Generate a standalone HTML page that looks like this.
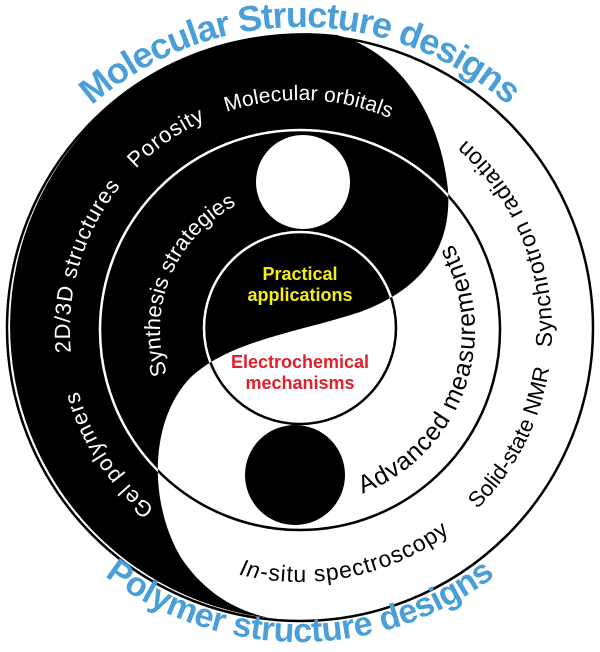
<!DOCTYPE html>
<html><head><meta charset="utf-8"><style>
html,body{margin:0;padding:0;background:#fff;}
svg{display:block;}
text{font-family:"Liberation Sans",Arial,sans-serif;}
</style></head><body>
<svg width="600" height="652" viewBox="0 0 600 652" xmlns="http://www.w3.org/2000/svg">
<defs>
<path id="blk" d="M337,35 C395,50 440,110 448,190 C452,250 420,290 360,312 C300,332 230,340 190,378 C150,420 148,500 180,556 C205,595 240,612 270,618 A293,293 0 1 1 337,35 Z"/>
<clipPath id="clipB"><use href="#blk"/></clipPath>
<path id="cw230" d="M300,560 A230,230 0 1 1 300,100 A230,230 0 1 1 300,560"/>
<path id="cw140" d="M300,470 A140,140 0 1 1 300,190 A140,140 0 1 1 300,470"/>
<path id="ccw175" d="M125,330 A175,175 0 1 0 475,330 A175,175 0 1 0 125,330"/>
<path id="ccw252" d="M48,330 A252,252 0 1 0 552,330 A252,252 0 1 0 48,330"/>
<path id="cw315" d="M300,657 A315,315 0 1 1 300,27 A315,315 0 1 1 300,657"/>
<path id="ccw322" d="M-22,320 A322,322 0 1 0 622,320 A322,322 0 1 0 -22,320"/>
</defs>
<circle cx="300" cy="328" r="293" fill="#fff" stroke="#000" stroke-width="2.5"/>
<use href="#blk" fill="#000"/>
<circle cx="300" cy="330" r="200" fill="none" stroke="#000" stroke-width="2.5"/>
<circle cx="300" cy="328" r="96" fill="none" stroke="#000" stroke-width="2.5"/>
<g clip-path="url(#clipB)">
<circle cx="300" cy="330" r="200" fill="none" stroke="#fff" stroke-width="2.5"/>
<circle cx="300" cy="328" r="96" fill="none" stroke="#fff" stroke-width="2.5"/>
</g>
<circle cx="303" cy="182" r="47" fill="#fff"/>
<circle cx="295" cy="475" r="50" fill="#000"/>

<text font-size="36" font-weight="bold" fill="#4a9fd8" text-anchor="middle"><textPath href="#cw315" startOffset="50%" textLength="455" lengthAdjust="spacing">Molecular Structure designs</textPath></text>
<text font-size="34" font-weight="bold" fill="#4a9fd8" text-anchor="middle"><textPath href="#ccw322" startOffset="25%" textLength="420" lengthAdjust="spacing">Polymer structure designs</textPath></text>

<g fill="#fff" font-size="22" text-anchor="middle">
<text><textPath href="#cw230" startOffset="29.6%" textLength="178" lengthAdjust="spacing">2D/3D structures</textPath></text>
<text><textPath href="#cw230" startOffset="40.3%" textLength="85" lengthAdjust="spacing">Porosity</textPath></text>
<text font-size="21"><textPath href="#cw230" startOffset="50.6%" textLength="167" lengthAdjust="spacing">Molecular orbitals</textPath></text>
<text><textPath href="#cw230" startOffset="15.8%" textLength="142" lengthAdjust="spacing">Gel polymers</textPath></text>
<text><textPath href="#cw140" startOffset="31.2%" textLength="199" lengthAdjust="spacing">Synthesis strategies</textPath></text>
</g>

<g fill="#000" text-anchor="middle">
<text font-size="25"><textPath href="#ccw175" startOffset="44.5%" textLength="301" lengthAdjust="spacing">Advanced measurements</textPath></text>
<text font-size="23"><textPath href="#ccw252" startOffset="28.1%" textLength="222" lengthAdjust="spacing"><tspan font-style="italic">In</tspan>-situ spectroscopy</textPath></text>
<text font-size="22"><textPath href="#ccw252" startOffset="42.5%" textLength="161" lengthAdjust="spacing">Solid-state NMR</textPath></text>
<text font-size="23"><textPath href="#ccw252" startOffset="56.25%" textLength="233" lengthAdjust="spacing">Synchrotron radiation</textPath></text>
</g>

<g font-size="18" font-weight="bold" text-anchor="middle">
<text x="300" y="280" fill="#f2ee1a">Practical</text>
<text x="300" y="301" fill="#f2ee1a">applications</text>
<text x="300" y="368" fill="#e0202a">Electrochemical</text>
<text x="300" y="389" fill="#e0202a">mechanisms</text>
</g>
</svg>
</body></html>
